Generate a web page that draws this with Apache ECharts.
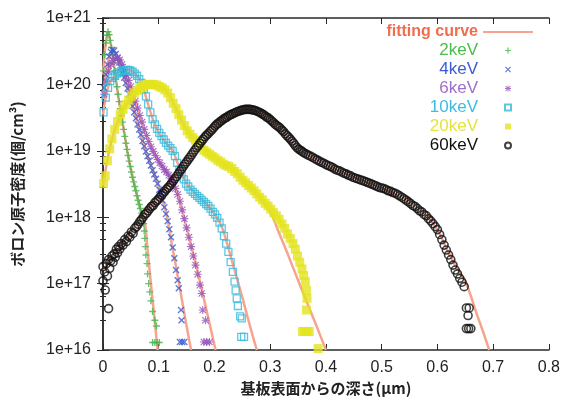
<!DOCTYPE html>
<html>
<head>
<meta charset="utf-8">
<script src="https://cdn.jsdelivr.net/npm/echarts@6/dist/echarts.min.js"></script>
<style>
html, body { margin: 0; padding: 0; background: #fff; }
#chart { width: 563px; height: 401px; }
</style>
</head>
<body>
<div id="chart"></div>
<script>
// depth (um) / boron concentration (atoms/cm3)
const xTicks = [0, 0.1, 0.2, 0.3, 0.4, 0.5, 0.6, 0.7, 0.8]
const yTicks = ['1e+16', '1e+17', '1e+18', '1e+19', '1e+20', '1e+21']
const energies = ['2keV', '4keV', '6keV', '10keV', '20keV', '60keV']

const kev2 = [
    [0.001, 1.6e20], [0.003, 2.8e20], [0.005, 4.2e20], [0.007, 5.5e20], [0.009, 6.2e20], [0.011, 5.6e20],
    [0.013, 4.6e20], [0.015, 3.6e20], [0.017, 2.8e20], [0.019, 2.1e20], [0.021, 1.6e20], [0.023, 1.2e20],
    [0.025, 9.2e19], [0.027, 7.1e19], [0.029, 5.5e19], [0.031, 4.3e19], [0.033, 3.4e19], [0.035, 2.7e19],
    [0.037, 2.1e19], [0.039, 1.65e19], [0.041, 1.3e19], [0.043, 1.05e19], [0.045, 8.5e18], [0.047, 7e18],
    [0.049, 5.8e18], [0.051, 4.8e18], [0.053, 4e18], [0.055, 3.4e18], [0.057, 2.9e18], [0.059, 2.5e18],
    [0.061, 2.1e18], [0.063, 1.8e18], [0.065, 1.55e18], [0.067, 1.35e18], [0.069, 1.15e18], [0.071, 1e18],
    [0.073, 8e17], [0.074, 6.2e17], [0.075, 4.8e17], [0.076, 3.6e17], [0.077, 2.7e17], [0.079, 2e17],
    [0.080, 1.4e17], [0.082, 1e17], [0.084, 7.5e16], [0.086, 5.5e16], [0.089, 3.8e16], [0.093, 2.8e16],
    [0.096, 2.3e16], [0.089, 1.3e16], [0.093, 1.3e16], [0.097, 1.3e16], [0.101, 1.3e16]
]
const kev4 = [
    [0.002, 8.9e19], [0.005, 1.41e20], [0.008, 2e20], [0.011, 2.63e20], [0.014, 3.09e20], [0.017, 3.31e20],
    [0.020, 3.24e20], [0.023, 2.88e20], [0.026, 2.51e20], [0.029, 2.14e20], [0.032, 1.78e20], [0.035, 1.48e20],
    [0.038, 1.26e20], [0.041, 1.05e20], [0.044, 8.7e19], [0.047, 7.1e19], [0.050, 5.75e19], [0.053, 4.7e19],
    [0.056, 3.8e19], [0.059, 3.1e19], [0.062, 2.5e19], [0.065, 2.1e19], [0.068, 1.74e19], [0.071, 1.41e19],
    [0.074, 1.17e19], [0.077, 9.8e18], [0.080, 8.3e18], [0.083, 7.1e18], [0.086, 6e18], [0.089, 5.1e18],
    [0.092, 4.4e18], [0.095, 3.8e18], [0.098, 3.2e18], [0.101, 2.6e18], [0.104, 2.2e18], [0.107, 1.78e18],
    [0.110, 1.41e18], [0.113, 1.12e18], [0.116, 8.7e17], [0.119, 6.6e17], [0.122, 5e17], [0.125, 3.5e17],
    [0.128, 2.4e17], [0.131, 1.6e17], [0.134, 1.12e17], [0.136, 8.5e16], [0.140, 4e16], [0.141, 2.8e16],
    [0.138, 1.32e16], [0.142, 1.32e16], [0.146, 1.32e16]
]
const kev6 = [
    [0.002, 7.1e19], [0.006, 1.12e20], [0.010, 1.58e20], [0.014, 2e20], [0.018, 2.29e20], [0.022, 2.45e20],
    [0.026, 2.51e20], [0.030, 2.34e20], [0.034, 2e20], [0.038, 1.66e20], [0.042, 1.38e20], [0.046, 1.15e20],
    [0.050, 9.3e19], [0.054, 7.2e19], [0.058, 5.6e19], [0.062, 4.4e19], [0.066, 3.4e19], [0.070, 2.7e19],
    [0.074, 2.1e19], [0.078, 1.7e19], [0.082, 1.38e19], [0.086, 1.15e19], [0.090, 9.8e18], [0.094, 8.5e18],
    [0.098, 7.4e18], [0.102, 6.6e18], [0.106, 5.9e18], [0.110, 5.2e18], [0.114, 4.8e18], [0.118, 4.3e18],
    [0.122, 3.8e18], [0.126, 3.2e18], [0.130, 2.7e18], [0.134, 2.2e18], [0.138, 1.74e18], [0.142, 1.29e18],
    [0.146, 9.5e17], [0.150, 6.9e17], [0.154, 5e17], [0.158, 3.6e17], [0.162, 2.6e17], [0.166, 1.9e17],
    [0.170, 1.38e17], [0.174, 9.5e16], [0.177, 7.1e16], [0.179, 4e16], [0.184, 2.8e16],
    [0.181, 1.32e16], [0.186, 1.32e16], [0.191, 1.32e16]
]
const kev10 = [
    [0.001, 3.8e19], [0.005, 6.3e19], [0.009, 8.9e19], [0.013, 1.12e20], [0.017, 1.26e20], [0.021, 1.35e20],
    [0.025, 1.45e20], [0.029, 1.51e20], [0.033, 1.58e20], [0.037, 1.62e20], [0.041, 1.66e20], [0.045, 1.66e20],
    [0.049, 1.62e20], [0.053, 1.55e20], [0.057, 1.45e20], [0.061, 1.35e20], [0.065, 1.2e20], [0.069, 1.05e20],
    [0.073, 8.5e19], [0.077, 6.6e19], [0.081, 5e19], [0.085, 3.8e19], [0.089, 3e19], [0.093, 2.5e19],
    [0.097, 2.14e19], [0.101, 1.86e19], [0.105, 1.66e19], [0.109, 1.48e19], [0.113, 1.32e19], [0.117, 1.2e19],
    [0.121, 1.1e19], [0.125, 1e19], [0.129, 8.3e18], [0.133, 6.6e18], [0.137, 5.2e18], [0.141, 4.4e18],
    [0.145, 3.7e18], [0.149, 3.2e18], [0.153, 2.9e18], [0.157, 2.6e18], [0.161, 2.4e18], [0.165, 2.24e18],
    [0.169, 2.1e18], [0.173, 1.95e18], [0.177, 1.82e18], [0.181, 1.7e18], [0.185, 1.58e18], [0.189, 1.48e18],
    [0.193, 1.35e18], [0.197, 1.2e18], [0.201, 1.1e18], [0.205, 9.8e17], [0.209, 8.3e17], [0.213, 6.8e17],
    [0.217, 5.2e17], [0.221, 4e17], [0.225, 3e17], [0.229, 2.1e17], [0.233, 1.5e17], [0.236, 1.07e17],
    [0.238, 7.9e16], [0.240, 6e16], [0.242, 4.6e16], [0.246, 3.2e16], [0.249, 3e16],
    [0.248, 1.58e16], [0.253, 1.58e16]
]
const kev20 = [
    [0.001, 3.2e18], [0.004, 4.2e18], [0.008, 7.1e18], [0.012, 1.07e19], [0.016, 1.51e19], [0.021, 2.1e19],
    [0.026, 2.75e19], [0.031, 3.5e19], [0.036, 4.2e19], [0.041, 5e19], [0.046, 5.8e19], [0.051, 6.6e19],
    [0.056, 7.4e19], [0.061, 8.1e19], [0.066, 8.7e19], [0.071, 9.3e19], [0.076, 9.8e19], [0.081, 1e20],
    [0.086, 1e20], [0.091, 1e20], [0.096, 9.8e19], [0.101, 9.3e19], [0.106, 8.9e19], [0.111, 8.3e19],
    [0.116, 7.4e19], [0.121, 6.3e19], [0.126, 5.2e19], [0.131, 4.3e19], [0.136, 3.5e19], [0.141, 2.9e19],
    [0.146, 2.4e19], [0.151, 2e19], [0.156, 1.78e19], [0.161, 1.58e19], [0.166, 1.45e19], [0.171, 1.3e19],
    [0.176, 1.15e19], [0.181, 1.02e19], [0.186, 9.5e18], [0.191, 8.9e18], [0.196, 8.3e18], [0.201, 7.8e18],
    [0.206, 7.2e18], [0.211, 6.8e18], [0.216, 6.3e18], [0.221, 6e18], [0.226, 5.8e18], [0.231, 5.4e18],
    [0.236, 4.9e18], [0.241, 4.5e18], [0.246, 4e18], [0.251, 3.6e18], [0.256, 3.3e18], [0.261, 3e18],
    [0.266, 2.75e18], [0.271, 2.5e18], [0.276, 2.24e18], [0.281, 2e18], [0.286, 1.82e18], [0.291, 1.62e18],
    [0.296, 1.48e18], [0.301, 1.32e18], [0.306, 1.17e18], [0.311, 1.05e18], [0.316, 9.3e17], [0.321, 7.9e17],
    [0.326, 6.8e17], [0.331, 5.6e17], [0.336, 4.8e17], [0.341, 4e17], [0.345, 3.3e17], [0.349, 2.6e17],
    [0.353, 2.1e17], [0.357, 1.66e17], [0.360, 1.32e17], [0.363, 1.07e17], [0.365, 7.9e16], [0.366, 6e16],
    [0.365, 4e16], [0.358, 1.9e16], [0.362, 1.9e16], [0.366, 1.9e16], [0.370, 1.9e16], [0.386, 1.05e16]
]
const kev60 = [
    [0.000, 1.8e17], [0.000, 1.1e17], [0.003, 1.5e17], [0.004, 8e16], [0.006, 2e17], [0.008, 1.3e17],
    [0.010, 4.2e16], [0.010, 2.3e17], [0.012, 1.7e17], [0.014, 2.2e17], [0.016, 2.6e17], [0.018, 2.1e17],
    [0.020, 2.8e17], [0.022, 2.5e17], [0.024, 3.3e17], [0.026, 2.9e17], [0.028, 3.6e17], [0.030, 3.3e17],
    [0.033, 4e17], [0.036, 3.8e17], [0.039, 4.6e17], [0.042, 4.3e17], [0.045, 5.2e17], [0.048, 5e17],
    [0.051, 6e17], [0.054, 5.7e17], [0.057, 6.8e17], [0.060, 7.2e17], [0.063, 7.8e17], [0.066, 8.6e17],
    [0.069, 9.2e17], [0.072, 1e18], [0.075, 1.1e18], [0.078, 1.15e18], [0.081, 1.25e18], [0.084, 1.35e18],
    [0.087, 1.45e18], [0.090, 1.5e18], [0.093, 1.65e18], [0.096, 1.75e18], [0.099, 1.85e18], [0.102, 2e18],
    [0.105, 2.15e18], [0.108, 2.3e18], [0.111, 2.45e18], [0.114, 2.65e18], [0.117, 2.8e18], [0.120, 3e18],
    [0.123, 3.25e18], [0.126, 3.5e18], [0.129, 3.8e18], [0.132, 4.1e18], [0.135, 4.5e18], [0.138, 4.9e18],
    [0.141, 5.3e18], [0.144, 5.8e18], [0.147, 6.3e18], [0.150, 6.8e18], [0.153, 7.4e18], [0.156, 8e18],
    [0.159, 8.7e18], [0.162, 9.5e18], [0.165, 1.03e19], [0.168, 1.12e19], [0.171, 1.2e19], [0.174, 1.3e19],
    [0.177, 1.4e19], [0.180, 1.5e19], [0.183, 1.62e19], [0.186, 1.72e19], [0.189, 1.82e19], [0.192, 1.95e19],
    [0.195, 2.05e19], [0.198, 2.2e19], [0.201, 2.35e19], [0.204, 2.5e19], [0.207, 2.6e19], [0.210, 2.75e19],
    [0.213, 2.85e19], [0.216, 3e19], [0.219, 3.1e19], [0.222, 3.2e19], [0.225, 3.35e19], [0.228, 3.45e19],
    [0.231, 3.55e19], [0.234, 3.65e19], [0.237, 3.75e19], [0.240, 3.85e19], [0.243, 3.95e19], [0.246, 4e19],
    [0.249, 4.1e19], [0.252, 4.15e19], [0.255, 4.2e19], [0.258, 4.2e19], [0.261, 4.2e19], [0.264, 4.2e19],
    [0.267, 4.15e19], [0.270, 4.1e19], [0.273, 4.05e19], [0.276, 3.95e19], [0.279, 3.85e19], [0.282, 3.75e19],
    [0.285, 3.6e19], [0.288, 3.5e19], [0.291, 3.35e19], [0.294, 3.2e19], [0.297, 3.1e19], [0.300, 2.95e19],
    [0.303, 2.8e19], [0.306, 2.65e19], [0.309, 2.5e19], [0.312, 2.4e19], [0.315, 2.3e19], [0.318, 2.2e19],
    [0.321, 2.05e19], [0.324, 1.95e19], [0.327, 1.8e19], [0.330, 1.7e19], [0.333, 1.6e19], [0.336, 1.5e19],
    [0.339, 1.4e19], [0.342, 1.3e19], [0.345, 1.2e19], [0.348, 1.12e19], [0.351, 1.06e19], [0.354, 1.02e19],
    [0.357, 9.8e18], [0.360, 9.4e18], [0.364, 9e18], [0.368, 8.6e18], [0.372, 8.3e18], [0.376, 8e18],
    [0.380, 7.6e18], [0.384, 7.3e18], [0.388, 7e18], [0.392, 6.7e18], [0.396, 6.5e18], [0.400, 6.2e18],
    [0.404, 6e18], [0.408, 5.8e18], [0.412, 5.6e18], [0.416, 5.3e18], [0.420, 5.1e18], [0.424, 5e18],
    [0.428, 4.8e18], [0.432, 4.6e18], [0.436, 4.5e18], [0.440, 4.3e18], [0.444, 4.2e18], [0.448, 4e18],
    [0.452, 3.9e18], [0.456, 3.8e18], [0.460, 3.7e18], [0.464, 3.6e18], [0.468, 3.5e18], [0.472, 3.4e18],
    [0.476, 3.3e18], [0.480, 3.2e18], [0.484, 3.1e18], [0.488, 3e18], [0.492, 2.9e18], [0.496, 2.8e18],
    [0.500, 2.75e18], [0.504, 2.7e18], [0.508, 2.6e18], [0.512, 2.5e18], [0.516, 2.45e18], [0.520, 2.35e18],
    [0.524, 2.3e18], [0.528, 2.2e18], [0.532, 2.1e18], [0.536, 2e18], [0.540, 1.9e18], [0.544, 1.8e18],
    [0.548, 1.7e18], [0.552, 1.6e18], [0.556, 1.5e18], [0.560, 1.45e18], [0.564, 1.35e18], [0.568, 1.25e18],
    [0.572, 1.2e18], [0.576, 1.1e18], [0.580, 1.05e18], [0.584, 9.5e17], [0.588, 8.8e17], [0.592, 8e17],
    [0.596, 7.2e17], [0.600, 6.5e17], [0.604, 5.5e17], [0.608, 4.6e17], [0.612, 3.8e17], [0.616, 3.2e17],
    [0.620, 2.7e17], [0.624, 2.3e17], [0.628, 1.9e17], [0.632, 1.6e17], [0.636, 1.4e17], [0.640, 1.2e17],
    [0.644, 1.05e17], [0.648, 9e16], [0.652, 4.3e16], [0.657, 4.3e16], [0.655, 3.3e16],
    [0.652, 2.1e16], [0.656, 2.1e16], [0.660, 2.1e16]
]

// fitting curves
const fit2 = [
    [0, 1.4e20], [0.004, 3.6e20], [0.009, 6.2e20], [0.014, 4.1e20], [0.02, 1.9e20], [0.026, 8e19],
    [0.032, 3.8e19], [0.038, 1.9e19], [0.044, 9.5e18], [0.05, 5.3e18], [0.056, 3.1e18], [0.062, 2e18],
    [0.068, 1.25e18], [0.075, 8.5e17], [0.08, 3.2e17], [0.085, 1.2e17], [0.09, 4.7e16], [0.095, 1.8e16], [0.098, 1e16]
]
const fit4 = [
    [0, 7e19], [0.006, 1.6e20], [0.012, 2.7e20], [0.018, 3.3e20], [0.025, 2.6e20], [0.035, 1.5e20],
    [0.045, 8.3e19], [0.055, 4.1e19], [0.065, 2.1e19], [0.075, 1.1e19], [0.085, 6.3e18], [0.095, 3.8e18],
    [0.105, 2.1e18], [0.115, 1e18], [0.124, 3.7e17], [0.13, 2e17], [0.14, 6.8e16], [0.15, 2.3e16], [0.158, 1e16]
]
const fit6 = [
    [0, 6e19], [0.01, 1.6e20], [0.02, 2.4e20], [0.027, 2.5e20], [0.035, 2e20], [0.045, 1.2e20],
    [0.055, 6.8e19], [0.065, 3.6e19], [0.075, 2e19], [0.085, 1.2e19], [0.1, 7e18], [0.115, 4.7e18],
    [0.125, 3.3e18], [0.135, 2.1e18], [0.145, 1e18], [0.155, 4.8e17], [0.165, 2.2e17], [0.175, 9.8e16],
    [0.185, 4.2e16], [0.195, 1.8e16], [0.202, 1e16]
]
const fit10 = [
    [0, 3.5e19], [0.01, 9.5e19], [0.025, 1.45e20], [0.045, 1.66e20], [0.06, 1.4e20], [0.07, 1e20],
    [0.08, 5.3e19], [0.09, 2.9e19], [0.1, 1.9e19], [0.115, 1.25e19], [0.125, 1e19], [0.135, 6.2e18],
    [0.15, 3.2e18], [0.17, 2.1e18], [0.19, 1.45e18], [0.205, 9.8e17], [0.215, 6.5e17], [0.222, 4.2e17],
    [0.229, 2.6e17], [0.24, 1.23e17], [0.25, 6.2e16], [0.26, 3e16], [0.268, 1.7e16], [0.276, 1e16]
]
const fit20 = [
    [0, 3e18], [0.01, 9e18], [0.02, 1.95e19], [0.03, 3.2e19], [0.045, 5.5e19], [0.06, 7.8e19],
    [0.075, 9.5e19], [0.088, 1e20], [0.1, 9.6e19], [0.11, 8.6e19], [0.12, 6.6e19], [0.13, 4.5e19],
    [0.14, 3e19], [0.15, 2.1e19], [0.165, 1.5e19], [0.18, 1.12e19], [0.2, 8e18], [0.22, 6.1e18],
    [0.24, 4.6e18], [0.26, 3e18], [0.28, 2e18], [0.29, 1.6e18], [0.3, 1.2e18], [0.307, 9e17],
    [0.314, 6.3e17], [0.33, 3e17], [0.35, 1.12e17], [0.37, 4.3e16], [0.385, 2.1e16], [0.4, 1e16]
]
const fit60 = [
    [0, 1.6e17], [0.05, 6e17], [0.1, 2e18], [0.15, 6.8e18], [0.2, 2.3e19], [0.23, 3.5e19], [0.26, 4.2e19],
    [0.29, 3.4e19], [0.32, 2.1e19], [0.35, 1.08e19], [0.38, 7.6e18], [0.42, 5.1e18], [0.46, 3.7e18],
    [0.5, 2.75e18], [0.54, 1.9e18], [0.58, 1.05e18], [0.6, 6.5e17], [0.62, 2.9e17], [0.64, 1.45e17],
    [0.649, 1.15e17], [0.66, 6.5e16], [0.67, 3.6e16], [0.68, 2.1e16], [0.693, 1e16]
]

const plus = 'path://M4,0H6V4H10V6H6V10H4V6H0V4H4Z'
const cross = 'path://M1.4,0L5,3.6L8.6,0L10,1.4L6.4,5L10,8.6L8.6,10L5,6.4L1.4,10L0,8.6L3.6,5L0,1.4Z'
const star = 'path://M4.3,0H5.7V4.3H10V5.7H5.7V10H4.3V5.7H0V4.3H4.3Z M1.5,0.5L5,4L8.5,0.5L9.5,1.5L6,5L9.5,8.5L8.5,9.5L5,6L1.5,9.5L0.5,8.5L4,5L0.5,1.5Z'
const square = 'path://M0,0H10V10H0Z'

const fitColor = '#f6a48e'
const axisColor = '#2a2a2a'
const numFont = '"Liberation Sans", Arial, sans-serif'
const jpFont = '"Noto Sans CJK JP", sans-serif'

const fits = [fit2, fit4, fit6, fit10, fit20, fit60].map(d => ({
    name: 'fitting curve',
    type: 'line',
    data: d,
    smooth: 0.3,
    symbol: 'none',
    lineStyle: { color: fitColor, width: 2.5 },
    itemStyle: { color: fitColor },
    z: 1,
    silent: true
}))

const marks = [
    { data: kev2, symbol: plus, symbolSize: 7, itemStyle: { color: '#3fb64a' } },
    { data: kev4, symbol: cross, symbolSize: 7, itemStyle: { color: '#3a5ad0' } },
    { data: kev6, symbol: star, symbolSize: 8, itemStyle: { color: '#9650bc' } },
    { data: kev10, symbol: square, symbolSize: 7, itemStyle: { color: 'rgba(0,0,0,0)', borderColor: '#35b9dc', borderWidth: 1.3 } },
    { data: kev20, symbol: square, symbolSize: 9, itemStyle: { color: '#e4e41e' } },
    { data: kev60, symbol: 'circle', symbolSize: 8, itemStyle: { color: 'rgba(0,0,0,0)', borderColor: '#111', borderWidth: 1.6 } }
].map((s, i) => Object.assign({ name: energies[i], type: 'scatter', z: 2, silent: true }, s))

const legendColors = ['#4cbc4c', '#3c5cd4', '#a070c8', '#3cbde0', '#e4e43c', '#111']

const chart = echarts.init(document.getElementById('chart'))
chart.setOption({
    animation: false,
    backgroundColor: '#fff',
    grid: { left: 103, right: 10, top: 18, bottom: 49 },
    legend: {
        orient: 'vertical',
        align: 'right',
        right: 30,
        top: 24,
        padding: 0,
        itemGap: 2,
        itemWidth: 50,
        itemHeight: 6,
        selectedMode: false,
        data: [{
            name: 'fitting curve',
            icon: 'path://M0,0H50V2H0Z',
            itemStyle: { color: fitColor },
            textStyle: { color: '#f36c4e', fontSize: 16, fontWeight: 'bold', fontFamily: numFont }
        }].concat(energies.map((e, i) => ({
            name: e,
            textStyle: { color: legendColors[i], fontSize: 17, fontFamily: numFont }
        })))
    },
    xAxis: [{
        type: 'value',
        min: 0,
        max: 0.8,
        interval: 0.1,
        name: '基板表面からの深さ(μm)',
        nameLocation: 'middle',
        nameGap: 31,
        nameTextStyle: { fontFamily: jpFont, fontSize: 15, fontWeight: 'bold', color: '#222' },
        axisLine: { lineStyle: { color: axisColor, width: 1.5 } },
        axisTick: { inside: true, length: 6, lineStyle: { color: axisColor } },
        axisLabel: {
            margin: 10, fontSize: 16, color: '#222', fontFamily: numFont,
            formatter: v => xTicks.indexOf(Math.round(v * 10) / 10) >= 0 ? String(Math.round(v * 10) / 10) : ''
        },
        splitLine: { show: false }
    }, {
        type: 'value',
        position: 'top',
        min: 0,
        max: 0.8,
        interval: 0.1,
        axisLine: { lineStyle: { color: axisColor, width: 1.5 } },
        axisTick: { inside: true, length: 6, lineStyle: { color: axisColor } },
        axisLabel: { show: false },
        splitLine: { show: false }
    }],
    yAxis: [{
        type: 'log',
        logBase: 10,
        min: 1e16,
        max: 1e21,
        interval: 1,
        name: 'ボロン原子密度(個/cm³)',
        nameLocation: 'middle',
        nameGap: 78,
        nameTextStyle: { fontFamily: jpFont, fontSize: 15, fontWeight: 'bold', color: '#222' },
        axisLine: { show: true, lineStyle: { color: axisColor, width: 1.5 } },
        axisTick: { inside: true, length: 6, lineStyle: { color: axisColor } },
        minorTick: { show: true, splitNumber: 5, length: 3, lineStyle: { color: axisColor } },
        axisLabel: {
            margin: 12, fontSize: 16, color: '#222', fontFamily: numFont,
            formatter: v => yTicks[Math.round(Math.log10(v)) - 16] || ''
        },
        splitLine: { show: false }
    }, {
        type: 'log',
        logBase: 10,
        min: 1e16,
        max: 1e21,
        interval: 1,
        position: 'right',
        axisLine: { show: true, lineStyle: { color: axisColor, width: 1.5 } },
        axisTick: { inside: true, length: 6, lineStyle: { color: axisColor } },
        minorTick: { show: true, splitNumber: 5, length: 3, lineStyle: { color: axisColor } },
        axisLabel: { show: false },
        splitLine: { show: false }
    }],
    series: fits.concat(marks)
})
</script>
</body>
</html>
